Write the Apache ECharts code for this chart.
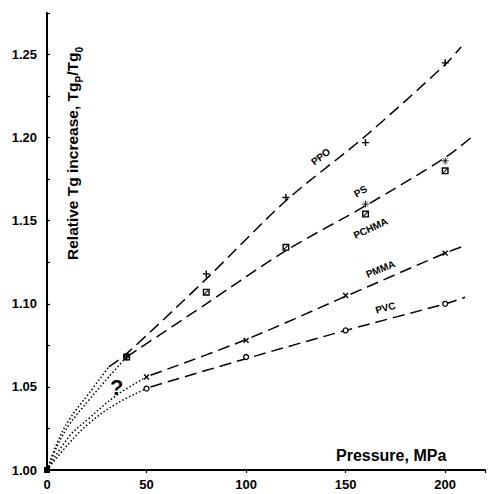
<!DOCTYPE html>
<html><head><meta charset="utf-8">
<script src="https://cdn.jsdelivr.net/npm/echarts@6/dist/echarts.min.js"></script>
<style>html,body{margin:0;padding:0;background:#fff}#c{width:488px;height:494px}</style>
</head><body><div id="c"></div>
<script>
// ---- measured points (pressure in MPa, relative Tg increase) ----
const markerPressure = [40, 80, 120, 160, 200];
const ppoMarkers   = [1.068, 1.118, 1.164, 1.197, 1.245];
const pchmaMarkers = [1.068, 1.107, 1.134, 1.154, 1.180];
const psPressure   = [160, 200];
const psMarkers    = [1.160, 1.186];
const lowPressure  = [50, 100, 150, 200];
const pmmaMarkers  = [1.056, 1.078, 1.105, 1.1305];
const pvcMarkers   = [1.049, 1.068, 1.084, 1.100];
const originPressure = [0];
const originValue    = [1.000];

// ---- dashed fitted curves ----
const ppoFitP  = [31, 40, 80, 120, 160, 200, 208];
const ppoFitV  = [1.062, 1.070, 1.115, 1.162, 1.201, 1.244, 1.2545];
const psFitP   = [40, 80, 120, 160, 200, 213];
const psFitV   = [1.068, 1.100, 1.132, 1.159, 1.188, 1.200];
const pmmaFitP = [52, 100, 150, 200, 210];
const pmmaFitV = [1.057, 1.0785, 1.1045, 1.1305, 1.135];
const pvcFitP  = [52, 100, 150, 200, 210];
const pvcFitV  = [1.050, 1.067, 1.084, 1.100, 1.104];

// ---- dotted extrapolations to the origin ----
const ppoExtP  = [0, 5, 11, 21, 31];
const ppoExtV  = [1.000, 1.016, 1.030, 1.046, 1.062];
const psExtP   = [0, 5, 11, 21, 31, 40];
const psExtV   = [1.000, 1.014, 1.027, 1.042, 1.056, 1.068];
const pmmaExtP = [0, 11, 21, 35, 50];
const pmmaExtV = [1.000, 1.020, 1.031, 1.045, 1.056];
const pvcExtP  = [0, 11, 21, 35, 50];
const pvcExtV  = [1.000, 1.016, 1.028, 1.040, 1.049];

// ---- curve labels ----
const annoText = ['PPO', 'PS', 'PCHMA', 'PMMA', 'PVC', '?'];
const annoP    = [137.5, 157.5, 162.5, 167.5, 170, 35];
const annoV    = [1.1886, 1.1677, 1.1455, 1.121, 1.0976, 1.0497];
const annoRot  = [38, 30, 25, 22, 15, 0];

const xTicks = [0, 50, 100, 150, 200];
const yTicks = ['1.00', '1.05', '1.10', '1.15', '1.20', '1.25'];

const FONT = '"Liberation Sans", Arial, sans-serif';
const pair = (xs, ys) => xs.map((x, i) => [x, ys[i]]);

const PLUS = 'path://M4,0H6V4H10V6H6V10H4V6H0V4H4Z';
const STAR = 'path://M4.4,0H5.6V10H4.4Z M0,4.4H10V5.6H0Z M1.3,0.9L9.1,8.7L8.7,9.1L0.9,1.3Z M8.7,0.9L9.1,1.3L1.3,9.1L0.9,8.7Z';
const SQSLASH = 'path://M0,0H10V10H0Z M2,2V8H8V2Z M2,7L7,2L8,3L3,8Z';

function dashed(name, xs, ys) {
  return { type: 'line', name, data: pair(xs, ys), symbol: 'none', smooth: 0.3,
    lineStyle: { color: '#000', width: 1.5, type: [12, 6] }, z: 2, silent: true };
}
function dotted(name, xs, ys) {
  return { type: 'line', name, data: pair(xs, ys), symbol: 'none', smooth: 0.4,
    lineStyle: { color: '#000', width: 1.5, type: [1.5, 2.2] }, z: 2, silent: true };
}
function marks(name, xs, ys, symbol, size, extra) {
  return Object.assign({ type: 'scatter', name, data: pair(xs, ys), symbol, symbolSize: size,
    itemStyle: { color: '#000', opacity: 1 }, z: 4, silent: true }, extra || {});
}

const chart = echarts.init(document.getElementById('c'), null, { renderer: 'svg' });
chart.setOption({
  animation: false,
  backgroundColor: '#fff',
  grid: { left: 47, right: 1, top: 13, bottom: 24, containLabel: false },
  xAxis: {
    type: 'value', min: 0, max: 220, interval: 50,
    axisLine: { show: true, lineStyle: { color: '#000', width: 2 } },
    axisTick: { show: true, length: 3, lineStyle: { color: '#000', width: 1.2 } },
    axisLabel: { color: '#000', fontFamily: FONT, fontWeight: 'bold', fontSize: 13, margin: 8,
      formatter: v => (xTicks.indexOf(v) >= 0 ? String(v) : '') },
    splitLine: { show: false },
    name: 'Pressure, MPa', nameLocation: 'end', nameGap: -149,
    nameTextStyle: { color: '#000', fontFamily: FONT, fontWeight: 'bold', fontSize: 16,
      verticalAlign: 'bottom', lineHeight: 18, padding: [0, 0, 6, 0] }
  },
  yAxis: {
    type: 'value', min: 1.0, max: 1.275, interval: 0.025,
    axisLine: { show: true, lineStyle: { color: '#000', width: 2 } },
    axisTick: { show: true, inside: true, length: 3, lineStyle: { color: '#000', width: 1.2 } },
    axisLabel: { color: '#000', fontFamily: FONT, fontWeight: 'bold', fontSize: 13, margin: 10,
      formatter: v => { const s = v.toFixed(2); return yTicks.indexOf(s) >= 0 && Math.abs(v * 20 - Math.round(v * 20)) < 1e-6 ? s : ''; } },
    splitLine: { show: false },
    name: '{n|Relative Tg increase, Tg}{s|P}{n|/Tg}{s|0}',
    nameLocation: 'middle', nameRotate: 90, nameGap: -37,
    nameTextStyle: {
      padding: [0, 0, 0, 176],
      rich: {
        n: { fontFamily: FONT, fontWeight: 'bold', fontSize: 15.5, color: '#000', lineHeight: 19 },
        s: { fontFamily: FONT, fontWeight: 'bold', fontSize: 10, color: '#000', lineHeight: 23, verticalAlign: 'bottom' }
      }
    }
  },
  series: [
    dashed('PPO fit', ppoFitP, ppoFitV),
    dashed('PS/PCHMA fit', psFitP, psFitV),
    dashed('PMMA fit', pmmaFitP, pmmaFitV),
    dashed('PVC fit', pvcFitP, pvcFitV),
    dotted('PPO extrap.', ppoExtP, ppoExtV),
    dotted('PS extrap.', psExtP, psExtV),
    dotted('PMMA extrap.', pmmaExtP, pmmaExtV),
    dotted('PVC extrap.', pvcExtP, pvcExtV),
    marks('PPO', markerPressure, ppoMarkers, PLUS, 7),
    marks('PCHMA', markerPressure, pchmaMarkers, SQSLASH, 7),
    marks('PS', psPressure, psMarkers, STAR, 7),
    marks('PMMA', lowPressure, pmmaMarkers, PLUS, 7, { symbolRotate: 45 }),
    marks('PVC', lowPressure, pvcMarkers, 'circle', 5, { itemStyle: { color: '#fff', borderColor: '#000', borderWidth: 1.3, opacity: 1 } }),
    marks('origin', originPressure, originValue, 'rect', 6),
    {
      type: 'scatter', name: 'labels', symbolSize: 0, silent: true, z: 5,
      itemStyle: { opacity: 1 },
      data: annoP.map((p, i) => ({
        value: [p, annoV[i]],
        label: {
          show: true, position: 'inside', formatter: annoText[i], rotate: annoRot[i],
          color: '#000', opacity: 1, textBorderWidth: 0, fontFamily: FONT, fontWeight: 'bold',
          fontSize: annoText[i] === '?' ? 22 : 10
        }
      }))
    }
  ]
});
</script></body></html>
